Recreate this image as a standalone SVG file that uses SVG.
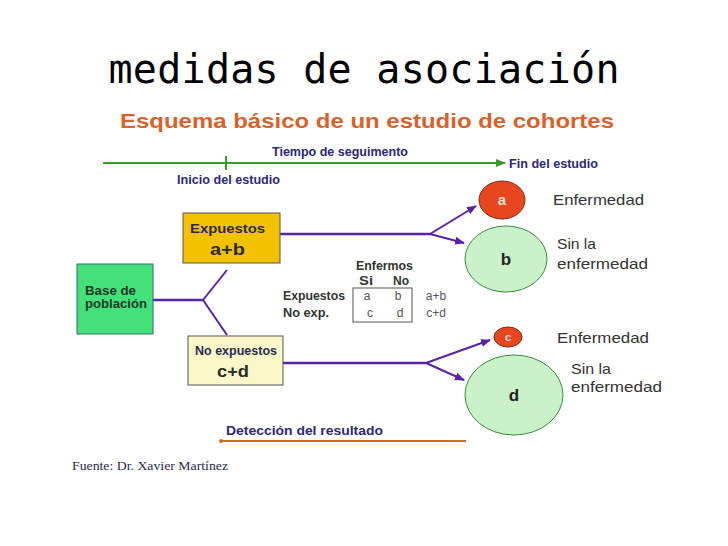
<svg xmlns="http://www.w3.org/2000/svg" width="728" height="546" viewBox="0 0 728 546">
<defs>
<style>
text{font-family:"Liberation Sans",Arial,sans-serif}
.navy{font-weight:bold;fill:#2d2878}
.lbl{fill:#333;font-size:14.5px}
.bold{font-weight:bold}
.conn{stroke:#5a22a6;stroke-width:2.5;fill:none}
.branch{stroke:#5a22a6;stroke-width:2;fill:none}
.tab{font-size:12px;fill:#555}
</style>
<marker id="ap" viewBox="0 0 10 10" refX="9" refY="5" markerWidth="5" markerHeight="5" orient="auto"><path d="M0,1 L10,5 L0,9 z" fill="#5a22a6"/></marker>
<marker id="ag" viewBox="0 0 10 10" refX="9" refY="5" markerWidth="5" markerHeight="5" orient="auto"><path d="M0,1 L10,5 L0,9 z" fill="#3a9a2a"/></marker>
</defs>
<rect width="728" height="546" fill="#fff"/>
<text x="364" y="83" text-anchor="middle" style="font-family:'DejaVu Sans Mono',monospace" font-size="40" fill="#000" textLength="511">medidas de asociación</text>
<text x="120" y="128" class="bold" font-size="21" fill="#d9622b" textLength="494" lengthAdjust="spacingAndGlyphs">Esquema básico de un estudio de cohortes</text>

<g id="timeline">
<line x1="103" y1="163" x2="505" y2="163" stroke="#3a9a2a" stroke-width="2" marker-end="url(#ag)"/>
<line x1="226" y1="156" x2="226" y2="170" stroke="#3a9a2a" stroke-width="2"/>
<text class="navy" x="272" y="156" font-size="12" textLength="136" lengthAdjust="spacingAndGlyphs">Tiempo de seguimento</text>
<text class="navy" x="509" y="168" font-size="12.5" textLength="89" lengthAdjust="spacingAndGlyphs">Fin del estudio</text>
<text class="navy" x="177" y="184" font-size="12.5" textLength="103" lengthAdjust="spacingAndGlyphs">Inicio del estudio</text>
</g>

<g id="connectors">
<polyline class="conn" points="153,300 203,300"/>
<line class="branch" x1="203" y1="300" x2="227" y2="270"/>
<line class="branch" x1="203" y1="300" x2="227" y2="335"/>
<line class="conn" x1="280" y1="234" x2="430" y2="234"/>
<line class="branch" x1="430" y1="234" x2="476" y2="206" marker-end="url(#ap)"/>
<line class="branch" x1="430" y1="234" x2="464" y2="243" marker-end="url(#ap)"/>
<line class="conn" x1="283" y1="363" x2="426" y2="363"/>
<line class="branch" x1="426" y1="363" x2="490" y2="340" marker-end="url(#ap)"/>
<line class="branch" x1="426" y1="363" x2="464" y2="380" marker-end="url(#ap)"/>
</g>

<g id="base">
<rect x="77" y="264" width="76" height="70" fill="#44e07a" stroke="#3a6a6a" stroke-width="1"/>
<text x="85" y="295" class="bold" font-size="12.5" fill="#1c3a28" textLength="51" lengthAdjust="spacingAndGlyphs">Base de</text>
<text x="85" y="308" class="bold" font-size="12.5" fill="#1c3a28" textLength="62" lengthAdjust="spacingAndGlyphs">población</text>
</g>

<g id="expuestos">
<rect x="183" y="213" width="97" height="50" fill="#f2c200" stroke="#555" stroke-width="1"/>
<text x="190" y="233" class="bold" font-size="13.5" fill="#2a2a50" textLength="75" lengthAdjust="spacingAndGlyphs">Expuestos</text>
<text x="210" y="255" class="bold" font-size="17" fill="#2a2a2a" textLength="35" lengthAdjust="spacingAndGlyphs">a+b</text>
</g>

<g id="noexpuestos">
<rect x="188" y="336" width="95" height="49" fill="#faf8c8" stroke="#555" stroke-width="1"/>
<text x="195" y="355" class="bold" font-size="12.5" fill="#2a2a50" textLength="82" lengthAdjust="spacingAndGlyphs">No expuestos</text>
<text x="217" y="377" class="bold" font-size="17" fill="#2a2a2a" textLength="32" lengthAdjust="spacingAndGlyphs">c+d</text>
</g>

<g id="tabla">
<text class="bold" x="356" y="270" font-size="12" fill="#333" textLength="57" lengthAdjust="spacingAndGlyphs">Enfermos</text>
<text class="bold" x="359" y="285" font-size="12" fill="#333" textLength="14" lengthAdjust="spacingAndGlyphs">Si</text>
<text class="bold" x="393" y="285" font-size="12" fill="#333" textLength="16" lengthAdjust="spacingAndGlyphs">No</text>
<text class="bold" x="283" y="300" font-size="12" fill="#333" textLength="62" lengthAdjust="spacingAndGlyphs">Expuestos</text>
<text class="bold" x="283" y="317" font-size="12" fill="#333" textLength="46" lengthAdjust="spacingAndGlyphs">No exp.</text>
<rect x="353" y="288" width="59" height="34" fill="none" stroke="#555" stroke-width="1"/>
<text class="tab" x="367" y="300" text-anchor="middle">a</text>
<text class="tab" x="398" y="300" text-anchor="middle">b</text>
<text class="tab" x="370" y="317" text-anchor="middle">c</text>
<text class="tab" x="400" y="317" text-anchor="middle">d</text>
<text class="tab" x="436" y="300" text-anchor="middle">a+b</text>
<text class="tab" x="436" y="317" text-anchor="middle">c+d</text>
</g>

<g id="nodo-a">
<ellipse cx="502" cy="200" rx="23" ry="19" fill="#e8461e" stroke="#7a2a10" stroke-width="1"/>
<text x="502" y="205" text-anchor="middle" class="bold" font-size="15" fill="#fbe0d8">a</text>
<text class="lbl" x="553" y="205" textLength="91" lengthAdjust="spacingAndGlyphs">Enfermedad</text>
</g>
<g id="nodo-b">
<ellipse cx="506" cy="259" rx="41" ry="33" fill="#c9f2c9" stroke="#3a8a3a" stroke-width="1"/>
<text x="506" y="265" text-anchor="middle" class="bold" font-size="17" fill="#222">b</text>
<text class="lbl" x="557" y="249" textLength="39" lengthAdjust="spacingAndGlyphs">Sin la</text>
<text class="lbl" x="557" y="269" textLength="91" lengthAdjust="spacingAndGlyphs">enfermedad</text>
</g>
<g id="nodo-c">
<ellipse cx="508" cy="337" rx="14" ry="10" fill="#e8461e" stroke="#7a2a10" stroke-width="1"/>
<text x="508" y="341" text-anchor="middle" class="bold" font-size="11" fill="#fbe0d8">c</text>
<text class="lbl" x="557" y="343" textLength="92" lengthAdjust="spacingAndGlyphs">Enfermedad</text>
</g>
<g id="nodo-d">
<ellipse cx="514" cy="395" rx="49" ry="40" fill="#c9f2c9" stroke="#3a8a3a" stroke-width="1"/>
<text x="514" y="401" text-anchor="middle" class="bold" font-size="17" fill="#222">d</text>
<text class="lbl" x="571" y="374" textLength="40" lengthAdjust="spacingAndGlyphs">Sin la</text>
<text class="lbl" x="571" y="392" textLength="91" lengthAdjust="spacingAndGlyphs">enfermedad</text>
</g>

<g id="deteccion">
<line x1="221" y1="441" x2="466" y2="441" stroke="#d2691e" stroke-width="2"/>
<circle cx="221" cy="441" r="2" fill="#d2691e"/>
<text class="navy" x="226" y="435" font-size="13.5" textLength="157" lengthAdjust="spacingAndGlyphs">Detección del resultado</text>
</g>

<text x="72" y="470" style="font-family:'Liberation Serif','Times New Roman',serif" font-size="11.5" fill="#2a2a50" textLength="156" lengthAdjust="spacingAndGlyphs">Fuente: Dr. Xavier Martínez</text>
</svg>
